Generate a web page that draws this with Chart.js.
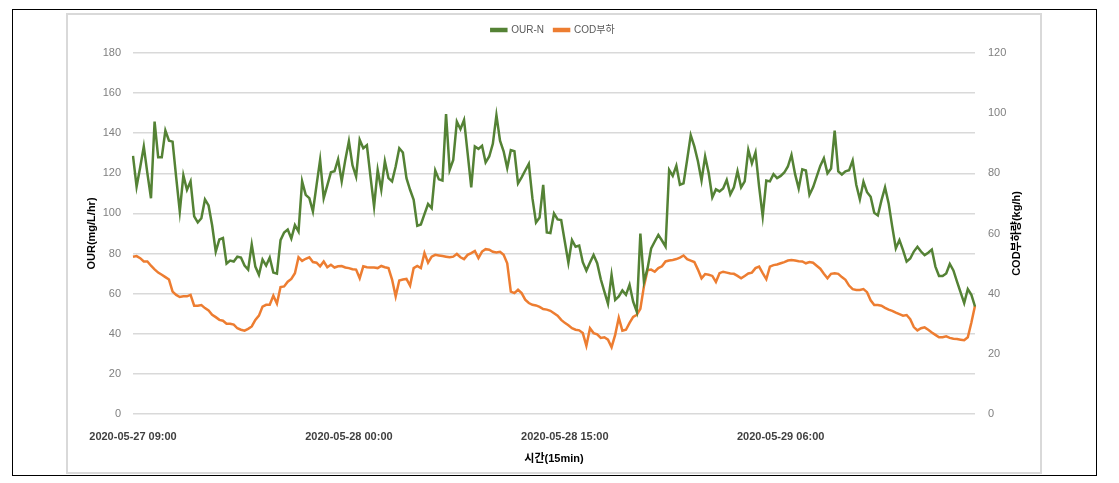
<!DOCTYPE html>
<html>
<head>
<meta charset="utf-8">
<script src="https://cdn.jsdelivr.net/npm/chart.js@4"></script>
<style>
    body { margin: 0; background: #fff; width: 1119px; height: 483px; position: relative; overflow: hidden; }
    #frame { position: absolute; left: 12px; top: 9px; width: 1083px; height: 465px; border: 1px solid #000; }
    #panel { position: absolute; left: 66px; top: 13px; width: 972px; height: 457px; border: 2px solid #d9d9d9; }
    #myChart { position: absolute; left: 68px; top: 15px; }
</style>
</head>
<body>
<div id="frame"></div>
<div id="panel"></div>
<canvas id="myChart" width="970" height="455"></canvas>
<script>
// 15-minute samples, 2020-05-27 09:00 onward
const startTime = new Date(2020, 4, 27, 9, 0);
const tickEvery = 60;

const ourN = [
    128.7, 113.4, 123, 133.4, 120, 107.6, 145.8, 128, 128, 141.3,
    136.3, 135.8, 118, 101, 119, 111.8, 116, 98.5, 95.5, 97.6,
    107, 104, 94, 81, 87, 87.7, 75, 76.5, 76, 78.4,
    78, 74, 72, 84.5, 73.5, 69.4, 77, 74, 78, 70.5,
    70, 86.7, 90.5, 92, 87.5, 94.2, 91, 116, 109.3, 107.6,
    101, 114, 126.7, 107.6, 114, 120.5, 121, 127, 116, 126.7,
    136, 124, 118.4, 136.7, 132.5, 134, 118.4, 103.5, 121.7, 111.8,
    126, 117.6, 116, 123.4, 132.5, 130.4, 117.6, 111.8, 106.8, 93.8,
    94.5, 99.7, 104.7, 102.6, 121.4, 117, 116.4, 149.6, 121.7, 126.7,
    145.8, 142, 146.6, 130, 113, 133.4, 132.2, 133.7, 125.4, 128.4,
    134.7, 149, 136.3, 131, 122.6, 131.6, 131, 115, 118, 121.4,
    124.7, 107.6, 95.5, 98, 114.3, 90.5, 90.2, 100, 97, 96.7,
    86, 75.4, 86.7, 83.4, 84, 75.7, 71.5, 75.5, 79.3, 75.2,
    67.2, 61, 55, 69.4, 56.9, 58.6, 61.6, 59.4, 64.4, 56,
    51, 90, 65.9, 72.6, 82.6, 86, 89.3, 86.5, 83.5, 121.7,
    118.7, 123.8, 114.3, 115, 126.7, 139, 133.4, 126, 116.4, 128.4,
    120, 108, 112, 111, 112.5, 116.7, 109.5, 113, 121, 113,
    116, 131.7, 125, 130.4, 113.4, 98.5, 116.4, 116, 119.6, 117.6,
    118.7, 120.4, 123.4, 129.2, 119.6, 112.5, 122, 121.4, 109.3, 113,
    118.4, 123.7, 127.5, 120, 122.4, 141.3, 121, 119.4, 121, 121.5,
    126.4, 114.3, 107, 115.8, 110.6, 108.3, 100.3, 99, 106.5, 113,
    105, 93.4, 82.6, 86.7, 81.7, 76, 77.5, 81, 83.4, 81,
    79.2, 80.4, 82, 73.5, 68.8, 68.8, 70.1, 74.8, 71.6, 66,
    60.6, 55.3, 62.3, 59.4, 53.6
];

const codLoad = [
    52.3, 52.5, 51.8, 50.7, 50.7, 49.3, 48.1, 47, 46.3, 45.5,
    44.7, 40.7, 39.6, 38.9, 39.1, 39.1, 39.6, 36, 36, 36.2,
    35.2, 34.4, 33, 32.2, 31.3, 31, 30, 30, 29.7, 28.5,
    28, 27.7, 28.3, 29.1, 31.3, 32.7, 35.7, 36.3, 36.3, 39.3,
    36.7, 42.2, 42.4, 44, 44.9, 46.8, 52.1, 50.9, 51.6, 52.1,
    50.5, 50.3, 49.1, 50.7, 48.8, 49.6, 48.7, 49.1, 49.2, 48.7,
    48.5, 48.1, 48, 45.1, 49.1, 48.8, 48.7, 48.7, 48.5, 49.2,
    48.8, 48.5, 44.7, 39.1, 44.4, 44.7, 44.9, 42.7, 48.5, 49.2,
    48.5, 53.5, 50.3, 52.3, 52.9, 52.7, 52.5, 52.3, 52.1, 52.3,
    53.2, 52.1, 51.5, 52.9, 53.5, 54.2, 51.8, 54, 54.8, 54.6,
    53.9, 53.7, 53.9, 52.9, 50.1, 40.7, 40.2, 41.3, 40.2, 38,
    36.9, 36.3, 36.1, 35.6, 34.9, 34.7, 34.3, 33.5, 32.7, 31.3,
    30.3, 29.5, 28.5, 28, 27.8, 26.9, 22.7, 28.5, 26.9, 26.5,
    25.3, 25.5, 24.7, 22.2, 26.3, 32, 27.7, 28, 30.3, 32.3,
    33, 35, 42.5, 47.8, 48, 47.3, 48.5, 49.1, 50.7, 51,
    51.2, 51.5, 52, 52.7, 51.5, 51, 50.5, 48, 45.1, 46.5,
    46.3, 45.9, 43.9, 46.8, 47.3, 47, 46.7, 46.6, 45.9, 45.1,
    45.9, 46.7, 47, 48.5, 49, 46.8, 44.8, 49, 49.5, 49.7,
    50.1, 50.5, 51, 51.2, 51, 50.8, 50.7, 50.1, 50.5, 50.3,
    49.3, 48.3, 46.6, 45.1, 46.6, 46.8, 46.6, 45.5, 44.6, 42.7,
    41.5, 41.2, 41.2, 41.5, 40.5, 37.8, 36.2, 36.2, 36, 35.3,
    34.7, 34.3, 33.7, 33.2, 32.7, 32.9, 31.5, 28.9, 27.8, 28.5,
    28.8, 28, 27.1, 26.3, 25.5, 25.5, 25.8, 25.3, 25, 24.9,
    24.7, 24.5, 25.5, 30.4, 36
];

const pad = n => String(n).padStart(2, '0');
const labels = ourN.map((v, i) => {
    const d = new Date(startTime.getTime() + i * 15 * 60000);
    return `${d.getFullYear()}-${pad(d.getMonth() + 1)}-${pad(d.getDate())} ${pad(d.getHours())}:${pad(d.getMinutes())}`;
});

const FONT = "'Liberation Sans', 'Noto Sans CJK KR', sans-serif";
const GREEN = '#548235';
const ORANGE = '#ED7D31';

// right axis title reads bottom-to-top like the left one
const rightTitle = {
    id: 'rightTitle',
    afterDraw(chart) {
        const s = chart.scales.y2;
        const ctx = chart.ctx;
        ctx.save();
        ctx.translate(s.right - 21, (chart.chartArea.top + chart.chartArea.bottom) / 2);
        ctx.rotate(-Math.PI / 2);
        ctx.font = 'bold 11px ' + FONT;
        ctx.fillStyle = '#000';
        ctx.textAlign = 'center';
        ctx.textBaseline = 'middle';
        ctx.fillText('COD부하량(kg/h)', 0, 0);
        ctx.restore();
    }
};

const legendHeight = {
    id: 'legendHeight',
    beforeInit(chart) {
        const fit = chart.legend.fit;
        chart.legend.fit = function () {
            fit.bind(chart.legend)();
            this.height = 38;
        };
    }
};

new Chart(document.getElementById('myChart'), {
    type: 'line',
    data: {
        labels: labels,
        datasets: [{
            label: 'OUR-N',
            data: ourN,
            borderColor: GREEN,
            backgroundColor: GREEN,
            borderWidth: 2.5,
            pointRadius: 0,
            yAxisID: 'y'
        }, {
            label: 'COD부하',
            data: codLoad,
            borderColor: ORANGE,
            backgroundColor: ORANGE,
            borderWidth: 2.5,
            pointRadius: 0,
            yAxisID: 'y2'
        }]
    },
    options: {
        responsive: false,
        animation: false,
        layout: { padding: 0 },
        plugins: {
            legend: {
                position: 'top',
                labels: {
                    boxWidth: 15,
                    boxHeight: 2,
                    padding: 10,
                    color: '#595959',
                    font: { family: FONT, size: 10 }
                }
            },
            tooltip: { enabled: false }
        },
        scales: {
            x: {
                grid: { display: false },
                border: { display: false },
                ticks: {
                    autoSkip: false,
                    maxRotation: 0,
                    minRotation: 0,
                    padding: 8,
                    color: '#404040',
                    font: { family: FONT, size: 11, weight: 'bold' },
                    callback: function (value, index) {
                        return index % tickEvery === 0 ? this.getLabelForValue(value) : '';
                    }
                },
                title: {
                    display: true,
                    text: '시간(15min)',
                    color: '#000',
                    font: { family: FONT, size: 11, weight: 'bold' },
                    padding: { top: 0, bottom: 4 }
                },
                afterFit(scale) { scale.height = 56; }
            },
            y: {
                position: 'left',
                min: 0,
                max: 180,
                ticks: {
                    stepSize: 20,
                    padding: 12,
                    color: '#7f7f7f',
                    font: { family: FONT, size: 11 }
                },
                grid: { color: '#d9d9d9', lineWidth: 1.5, drawTicks: false },
                border: { display: false },
                title: {
                    display: true,
                    text: 'OUR(mg/L/hr)',
                    color: '#000',
                    font: { family: FONT, size: 11, weight: 'bold' },
                    padding: { top: 17, bottom: 0 }
                },
                afterFit(scale) { scale.width = 65; }
            },
            y2: {
                position: 'right',
                min: 0,
                max: 120,
                ticks: {
                    stepSize: 20,
                    padding: 13,
                    color: '#7f7f7f',
                    font: { family: FONT, size: 11 }
                },
                grid: { display: false, drawTicks: false },
                border: { display: false },
                afterFit(scale) { scale.width = 63; }
            }
        }
    },
    plugins: [legendHeight, rightTitle]
});
</script>
</body>
</html>
